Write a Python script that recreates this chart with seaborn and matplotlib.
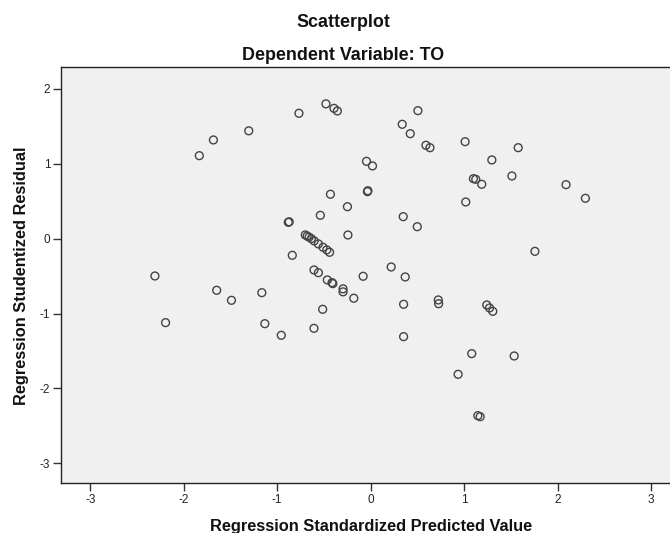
import matplotlib
matplotlib.use("Agg")
import matplotlib.pyplot as plt
import seaborn as sns
import pandas as pd

# Regression standardized predicted value (x) and studentized residual (y)
pred_x = [-0.479, -0.393, -0.357, -0.768, -1.305, -1.683, -1.834,
          -0.431, -0.249, -0.539, -0.882, -0.872, -0.244,
          -0.700, -0.680, -0.660, -0.635, -0.605, -0.560, -0.510, -0.470, -0.440,
          -0.839, -0.607, -0.560, -0.464, -0.414, -0.405, -0.296, -0.296,
          -2.309, -1.648, -1.165, -1.490, -2.195, -1.133, -0.957, -0.607, -0.514,
          0.505, 0.337, 0.423, 0.591, 0.634, 1.010, 1.578, 1.296,
          -0.045, 0.019, 1.511, 1.099, 1.124, 1.188, 2.090, 2.297,
          -0.035, -0.030, 1.017, 0.348, 0.498, 1.757, 0.219, -0.081, 0.369,
          -0.181, 0.723, 0.727, 0.352, 1.242, 1.271, 1.306, 0.352,
          1.081, 1.535, 0.935, 1.146, 1.171]
resid_y = [1.800, 1.740, 1.705, 1.674, 1.440, 1.318, 1.108,
           0.593, 0.427, 0.312, 0.219, 0.225, 0.049,
           0.050, 0.035, 0.020, 0.000, -0.030, -0.070, -0.115, -0.150, -0.182,
           -0.222, -0.418, -0.454, -0.551, -0.587, -0.600, -0.670, -0.710,
           -0.498, -0.689, -0.721, -0.823, -1.121, -1.135, -1.290, -1.197, -0.943,
           1.709, 1.527, 1.402, 1.247, 1.215, 1.295, 1.215, 1.051,
           1.033, 0.971, 0.837, 0.801, 0.793, 0.726, 0.721, 0.539,
           0.628, 0.640, 0.490, 0.294, 0.160, -0.169, -0.378, -0.502, -0.511,
           -0.795, -0.818, -0.868, -0.876, -0.885, -0.925, -0.970, -1.308,
           -1.535, -1.566, -1.811, -2.363, -2.376]

x_ticks = [-3, -2, -1, 0, 1, 2, 3]
y_ticks = [-3, -2, -1, 0, 1, 2]

df = pd.DataFrame({"pred": pred_x, "resid": resid_y})

sns.set_style("white")
plt.rcParams["font.family"] = ["Liberation Sans", "DejaVu Sans"]

W, H = 670, 533
fig = plt.figure(figsize=(W / 100, H / 100), dpi=100)
fig.patch.set_facecolor("white")
# axes extend slightly past the right edge, as in the reference crop
ax = fig.add_axes([60.7 / W, 1 - 483.3 / H, (681 - 60.7) / W, (483.3 - 67.3) / H])
ax.set_facecolor("#f0f0f0")

sns.scatterplot(data=df, x="pred", y="resid", ax=ax, marker="o", s=32,
                facecolor="none", edgecolor="#444444", linewidth=1.0,
                legend=False, zorder=3)

ax.set_xlim(-3.317, 3.32)
ax.set_ylim(-3.266, 2.288)
ax.set_xticks(x_ticks)
ax.set_yticks(y_ticks)
ax.set_xticklabels([str(v) for v in x_ticks])
ax.set_yticklabels([str(v) for v in y_ticks])
ax.tick_params(axis="both", direction="out", length=6, width=1.0, color="#333333",
               labelsize=8.5, labelcolor="#222222", pad=1.5)
ax.tick_params(axis="x", bottom=True)
ax.tick_params(axis="y", left=True)
for side in ["left", "bottom", "top", "right"]:
    ax.spines[side].set_color("#222222")
    ax.spines[side].set_linewidth(1.0)
ax.set_xlabel("")
ax.set_ylabel("")

fig.text(371 / W, 1 - 530.5 / H, "Regression Standardized Predicted Value",
         ha="center", va="baseline", fontsize=11.8, fontweight="bold", color="#111111")
fig.text(22 / W, 1 - 276 / H, "Regression Studentized Residual", rotation=90,
         ha="center", va="center", fontsize=11.8, fontweight="bold", color="#111111")

fig.text(343 / W, 1 - 27 / H, "Scatterplot", ha="center", va="baseline",
         fontsize=12.9, fontweight="bold", color="#111111")
fig.text(343 / W, 1 - 59.5 / H, "Dependent Variable: TO", ha="center",
         va="baseline", fontsize=12.9, fontweight="bold", color="#111111")

fig.savefig("out.png", dpi=100, facecolor="white")
